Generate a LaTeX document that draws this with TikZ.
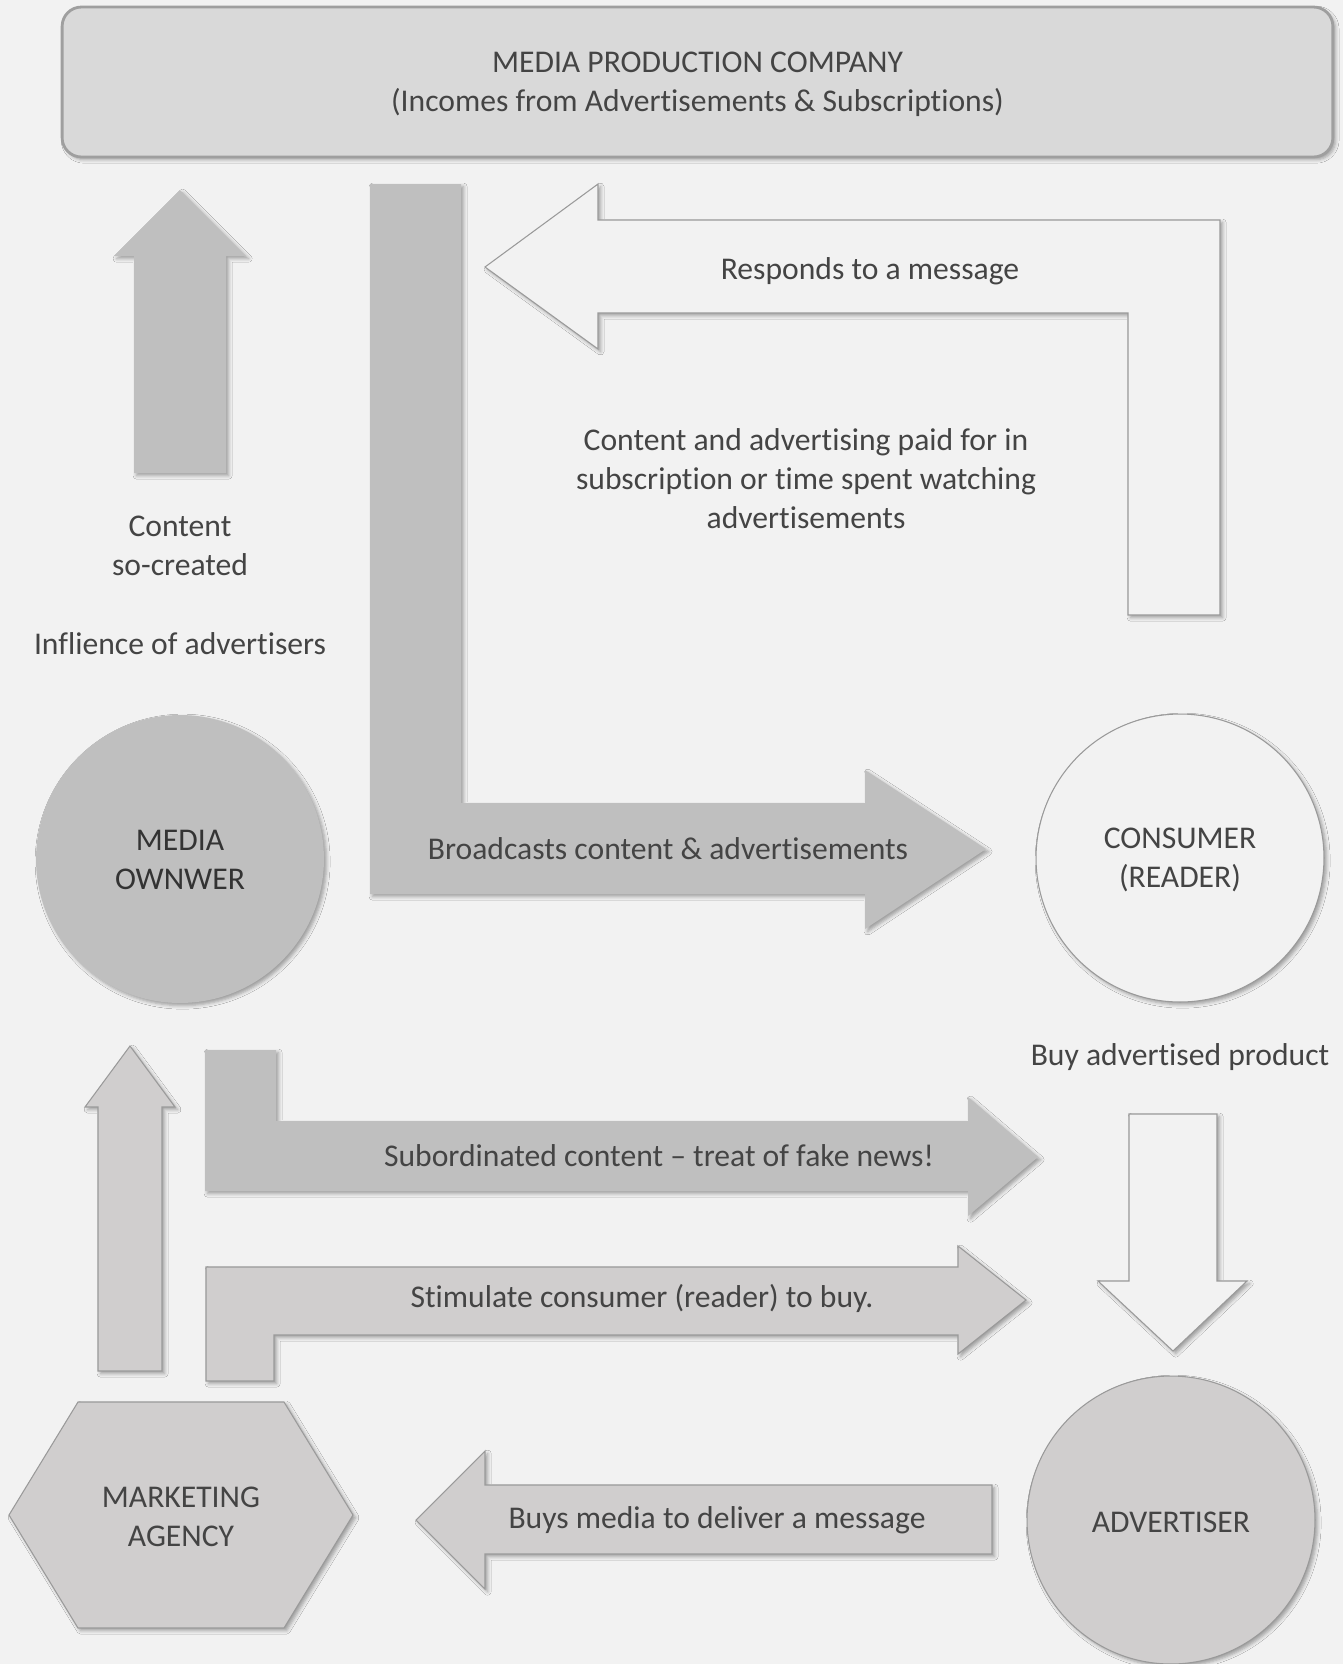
\documentclass[tikz,border=0pt]{standalone}
\usepackage{fontspec}
\setmainfont{Carlito}[Ligatures=NoCommon]
\usetikzlibrary{shapes.geometric,positioning,shadows.blur}

\definecolor{bgcol}{HTML}{F2F2F2}
\definecolor{darkfill}{HTML}{BFBFBF}
\definecolor{lightfill}{HTML}{D0CECE}
\definecolor{boxfill}{HTML}{D9D9D9}
\definecolor{edgecol}{HTML}{9A9A9A}
\definecolor{txtcol}{HTML}{444444}

\tikzstyle{softshadow} = [blur shadow={shadow xshift=1.5pt, shadow yshift=-1.5pt, shadow blur radius=2pt, shadow opacity=35}]
\tikzstyle{lbl} = [text=txtcol, align=center, font=\fontsize{18}{22.2}\selectfont, inner sep=0pt]
\tikzstyle{darkarrow} = [fill=darkfill, draw=none, softshadow]
\tikzstyle{lightarrow} = [fill=lightfill, draw=edgecol, line width=0.6pt, softshadow]
\tikzstyle{whitearrow} = [fill=bgcol, draw=edgecol, line width=0.6pt, softshadow]
\tikzstyle{company} = [rectangle, rounded corners=11pt, minimum width=25.42cm, minimum height=3cm, fill=boxfill, draw=gray!75, line width=1.6pt, softshadow]
\tikzstyle{party} = [circle, minimum size=5.76cm, inner sep=0pt, softshadow]

\begin{document}
\begin{tikzpicture}[x=0.02cm, y=-0.02cm]

\fill[bgcol] (0,0) rectangle (1343,1664);
\useasboundingbox (0,0) rectangle (1343,1664);

% the company at the top
\node (prod) [company] at (697.5,82) {};
\node (prodtext) [lbl] at (697.5,84) {MEDIA PRODUCTION COMPANY\\(Incomes from Advertisements \& Subscriptions)};

% block arrows
\draw [darkarrow] (134,473) -- (134,256) -- (114,256) -- (180,190) -- (246,256) -- (226,256) -- (226,473) -- cycle;
\draw [darkarrow] (370,184) -- (461,184) -- (461,803) -- (865,803) -- (865,770) -- (986,849) -- (865,929) -- (865,894) -- (370,894) -- cycle;
\draw [whitearrow] (485,267) -- (598,184) -- (598,220) -- (1220,220) -- (1220,615) -- (1128,615) -- (1128,313) -- (598,313) -- (598,349) -- cycle;
\draw [lightarrow] (98,1371) -- (98,1107) -- (85,1107) -- (130,1046) -- (175,1107) -- (162,1107) -- (162,1371) -- cycle;
\draw [darkarrow] (205,1050) -- (276,1050) -- (276,1121) -- (968,1121) -- (968,1097) -- (1038,1157) -- (968,1216) -- (968,1191) -- (205,1191) -- cycle;
\draw [lightarrow] (206,1381) -- (206,1267) -- (958,1267) -- (958,1246) -- (1026,1300) -- (958,1354) -- (958,1335) -- (274,1335) -- (274,1381) -- cycle;
\draw [whitearrow] (1129,1114) -- (1217,1114) -- (1217,1281) -- (1247,1281) -- (1173,1351) -- (1098,1281) -- (1129,1281) -- cycle;
\draw [lightarrow] (992,1485) -- (485,1485) -- (485,1451) -- (416,1520) -- (485,1589) -- (485,1554) -- (992,1554) -- cycle;

% parties
\node (owner) [party, fill=darkfill] at (180,859) {};
\node (consumer) [party, fill=bgcol, draw=edgecol, line width=0.6pt] at (1180,858) {};
\node (advertiser) [party, fill=lightfill, draw=edgecol, line width=0.6pt] at (1171,1520) {};
\draw [lightarrow] (9,1515) -- (78,1402) -- (284,1402) -- (353,1515) -- (284,1628) -- (78,1628) -- cycle;

% texts
\node (ownertext) [lbl, text=black!80] at (180,860) {MEDIA\\OWNWER};
\node (consumertext) [lbl] at (1180,860) {CONSUMER\\(READER)};
\node (advertisertext) [lbl] at (1171,1522) {ADVERTISER};
\node (agencytext) [lbl] at (181,1517) {MARKETING\\AGENCY};

\node (created) [lbl] at (180,546) {Content\\so-created};
\node (influence) [lbl] at (180,644) {Inflience of advertisers};
\node (responds) [lbl] at (870,271) {Responds to a message};
\node (paid) [lbl] at (806,479) {Content and advertising paid for in\\subscription or time spent watching\\advertisements};
\node (broadcast) [lbl] at (668,849) {Broadcasts content \& advertisements};
\node (buyprod) [lbl] at (1180,1057) {Buy advertised product};
\node (fakenews) [lbl] at (659,1156) {Subordinated content -- treat of fake news!};
\node (stimulate) [lbl] at (642,1298) {Stimulate consumer (reader) to buy.};
\node (buysmedia) [lbl] at (717,1520) {Buys media to deliver a message};

\end{tikzpicture}
\end{document}
